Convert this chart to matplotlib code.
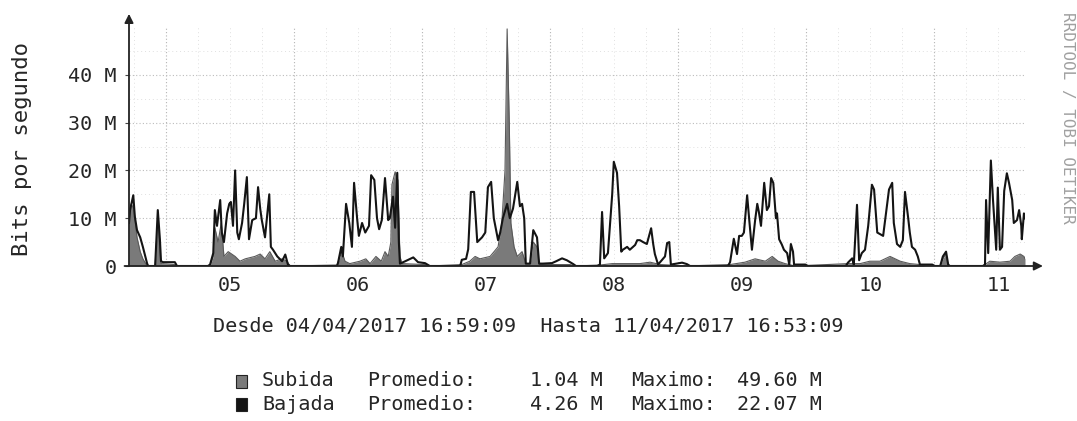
import matplotlib
matplotlib.use('Agg')
import matplotlib.pyplot as plt

# horas desde 04/04/2017 16:59:09, valores en Mbit/s
bajada_h = [0.0, 0.2, 0.8, 1.1, 1.5, 2.1, 2.6, 3.4, 3.6, 4.9, 5.3, 5.4, 5.8, 6.0, 6.4, 8.6, 9.0,
            14.8, 15.2, 15.8, 16.1, 16.5, 17.1, 17.4, 17.8, 18.4, 18.8, 19.1, 19.5, 19.9, 20.3, 20.6,
            21.2, 21.6, 22.1, 22.5, 23.1, 23.8, 24.2, 24.6, 24.9, 25.5, 26.3, 26.6, 27.0, 27.8, 28.7,
            29.3, 29.8, 30.2,
            39.0, 39.2, 39.8, 40.1, 40.7, 41.3, 41.8, 42.2, 42.8, 43.1, 43.7, 44.3, 45.0, 45.4, 46.0,
            46.5, 46.9, 47.4, 48.0, 48.6, 48.9, 49.5, 49.9, 50.3, 50.6, 50.8, 51.8, 53.3, 54.2, 55.5, 56.4,
            62.1, 62.4, 63.2, 63.6, 64.1, 64.7, 65.3, 66.2, 66.8, 67.3, 67.9, 68.4, 69.2, 69.6, 70.1,
            70.9, 71.4, 72.0, 72.8, 73.3, 73.7, 74.1, 74.4, 75.2, 75.8, 76.5, 76.9, 77.6, 79.3, 80.1,
            81.2, 82.1, 83.3, 83.8,
            87.8, 88.3, 88.7, 89.1, 89.8, 90.6, 90.9, 91.5, 91.9, 92.3, 92.6, 93.4, 93.9, 94.9, 95.3,
            95.8, 96.4, 97.1, 97.9, 98.3, 98.6, 99.2, 100.5, 100.9, 101.3, 101.6, 103.7, 104.6, 105.2,
            112.3, 112.7, 113.4, 114.0, 114.4, 114.9, 115.3, 115.9, 116.3, 116.8, 117.4, 117.8, 118.1,
            118.5, 119.1, 119.6, 120.0, 120.4, 120.8, 121.3, 121.5, 121.9, 122.4, 122.8, 123.4, 123.8,
            124.1, 124.5, 124.7, 126.8, 127.3,
            134.4, 134.8, 135.6, 135.9, 136.5, 136.9, 137.4, 138.0, 138.6, 139.3, 139.7, 140.3, 141.4,
            142.1, 142.5, 143.1, 143.4, 144.0, 144.6, 145.1, 145.5, 146.1, 146.4, 146.8, 147.4, 147.9,
            148.3, 150.6, 151.1, 152.1, 152.6, 153.2, 153.6, 153.9,
            160.1, 160.5, 160.7, 161.1, 161.6, 162.0, 162.6, 162.9, 163.3, 163.7, 164.1, 164.6, 165.0,
            165.6, 165.9, 166.5, 166.9, 167.3, 167.4, 167.8, 168.0]
bajada_v = [9, 11.7, 14.8, 10.3, 7.5, 6, 4, 0.5, 0, 0, 9, 11.7, 5.5, 1, 0.8, 0.8, 0,
            0, 0.3, 2.7, 11.7, 8.4, 13.8, 7, 5, 11, 13, 13.4, 8.4, 20, 7, 5.6,
            9, 13, 18.6, 5.6, 9.6, 10, 16.5, 12, 9.6, 6, 15, 4, 3.4, 2, 1,
            2.4, 0.3, 0,
            0, 0.7, 4, 2, 13, 9, 4, 17.4, 9.6, 6.3, 9, 7, 8.4, 19, 18,
            10, 7.7, 9.6, 18.4, 9.6, 10, 14.5, 8, 19.5, 5, 0.5, 1, 1.8, 0.8, 0.6, 0,
            0, 1.3, 1.5, 3.5, 15.5, 15.5, 5, 6, 7, 16.5, 17.6, 10, 5.4, 7, 10,
            13, 10, 12, 17.6, 12.5, 13, 10, 0.5, 0.5, 7.5, 6, 0.5, 0.5, 0.6, 1,
            1.6, 1.2, 0.4, 0,
            0, 0.3, 11.3, 1.6, 2.7, 15, 21.8, 19.5, 12.5, 3, 3.4, 4, 3.4, 4.4, 5.4,
            5.4, 5, 4.6, 7.9, 4.5, 2.5, 0.3, 2, 4.8, 5, 0.3, 0.7, 0.4, 0,
            0, 0.8, 5.7, 2.5, 6.3, 6.3, 7, 14.8, 9.6, 3.4, 9.6, 13, 11.3,
            8.4, 17.4, 11.7, 12.5, 18.4, 17.4, 10, 11, 5.6, 4.5, 3.4, 2.7, 0.3,
            4.6, 3, 0.3, 0.3, 0,
            0, 0.7, 1.6, 0.3, 12.8, 1.2, 2.7, 3.4, 8.4, 17, 16, 7, 6.3,
            12.5, 16, 17.4, 9, 4.6, 4, 5.4, 15.5, 10, 7, 4, 3.4, 2,
            0.3, 0.3, 0, 0, 2, 3, 0.3, 0,
            0, 0.3, 13.8, 2.7, 22.07, 13.8, 3.4, 16.4, 3.4, 4, 15.7, 19.4, 17.4,
            13.8, 9, 9.6, 11.7, 8.4, 5.6, 11, 10]

subida_h = [0.0, 0.4, 0.9, 1.5, 2.1, 2.6, 3.4, 4.9, 5.3, 5.4, 5.8, 6.0, 8.6, 9.0,
            15.2, 15.8, 16.1, 16.7, 17.3, 17.8, 18.6, 19.9, 20.8, 21.8, 23.6, 24.6, 25.5, 26.4,
            27.4, 28.7, 29.6, 30.2,
            39.0, 39.9, 40.5, 41.4, 43.3, 44.4, 45.2, 46.3, 47.3, 48.0, 48.6, 49.1, 49.3, 49.9,
            50.4, 50.8, 51.2, 55.5, 56.4,
            62.4, 63.9, 64.9, 65.8, 67.7, 69.2, 69.9, 70.5, 70.9, 71.3, 71.6, 72.2, 72.8, 73.7,
            74.4, 75.2, 75.8, 76.5, 76.9, 82.7, 83.6,
            88.3, 90.6, 95.8, 97.7, 99.6, 101.4, 104.3,
            112.7, 115.5, 117.4, 119.3, 120.6, 121.7, 123.0, 124.9,
            134.8, 137.1, 138.9, 140.8, 142.7, 144.6, 146.4, 148.3, 149.3, 152.1, 152.6, 153.2, 153.6,
            160.1, 160.5, 161.4, 163.3, 165.2, 166.1, 167.1, 167.8, 168.0]
subida_v = [11, 13, 12, 6, 3, 1.5, 0, 0, 8, 10, 3, 0.5, 0.3, 0,
            0, 2, 8, 5, 9, 2, 3, 2, 1, 1.5, 2, 2.5, 1.5, 3,
            1, 1.5, 1, 0,
            0.2, 3, 1, 0.5, 1, 1.5, 0.5, 2, 1, 3, 2, 5, 17, 19.7,
            18, 2, 0.5, 0.3, 0,
            0.3, 1, 2, 1.5, 2, 4, 9, 20, 49.6, 30, 9, 4, 2, 3,
            0.5, 0.5, 5, 4, 0.3, 0.3, 0,
            0.2, 0.5, 0.5, 0.8, 0.3, 0.2, 0,
            0.3, 0.8, 1.5, 1, 2, 1, 0.5, 0,
            0.5, 0.5, 1, 1, 2, 1, 0.5, 0.3, 0, 0, 1.5, 2.5, 0,
            0, 0.3, 1, 0.8, 1, 2, 2.5, 2, 1.5]

dias = ['05', '06', '07', '08', '09', '10', '11']
dias_mediodia = [19.0, 43.0, 67.0, 91.0, 115.0, 139.0, 163.0]
y_ticks = [0, 10, 20, 30, 40]
y_labels = ['0', '10 M', '20 M', '30 M', '40 M']

leyenda = [('Subida', '1.04 M', '49.60 M', '#7a7a7a'),
           ('Bajada', '4.26 M', '22.07 M', '#141414')]

mono = 'DejaVu Sans Mono'
txt = '#262626'
fs = 14.5

W, H = 1077, 421
fig = plt.figure(figsize=(W / 100, H / 100), dpi=100)
ax = fig.add_axes([129 / W, 1 - 266 / H, 896 / W, 239 / H])
ax.set_xlim(0, 168)
ax.set_ylim(0, 50)

# rejilla punteada: fina cada 6 h / 5 M, marcada a medianoche / 10 M
for h in range(1, 168, 6):
    if (h - 7) % 24 == 0:
        ax.axvline(h, color='#b4b4b4', lw=0.8, ls=(0, (1, 2)), zorder=1)
    else:
        ax.axvline(h, color='#e0e0e0', lw=0.7, ls=(0, (1, 3)), zorder=1)
for v in range(5, 50, 5):
    if v % 10 == 0:
        ax.axhline(v, color='#bcbcbc', lw=0.8, ls=(0, (1, 2)), zorder=1)
    else:
        ax.axhline(v, color='#e0e0e0', lw=0.7, ls=(0, (1, 3)), zorder=1)

ax.fill_between(subida_h, subida_v, 0, color='#7a7a7a', lw=0, zorder=2)
ax.plot(subida_h, subida_v, color='#5a5a5a', lw=0.8, zorder=2)
ax.plot(bajada_h, bajada_v, color='#141414', lw=1.5, zorder=3)

for s in ax.spines.values():
    s.set_visible(False)
ax.annotate('', xy=(0, 1.055), xytext=(0, 0), xycoords='axes fraction',
            arrowprops=dict(arrowstyle='-|>', color='#222222', lw=1.3, mutation_scale=13,
                            shrinkA=0, shrinkB=0), annotation_clip=False)
ax.annotate('', xy=(1.02, 0), xytext=(-0.005, 0), xycoords='axes fraction',
            arrowprops=dict(arrowstyle='-|>', color='#222222', lw=1.3, mutation_scale=13,
                            shrinkA=0, shrinkB=0), annotation_clip=False)

ax.set_yticks(y_ticks)
ax.set_yticklabels(y_labels, family=mono, fontsize=fs, color=txt)
ax.set_xticks(dias_mediodia)
ax.set_xticklabels(dias, family=mono, fontsize=fs, color=txt)
ax.tick_params(axis='y', length=3, width=0.8, color='#444444', pad=6)
ax.tick_params(axis='x', length=0, pad=7)

fig.text(22 / W, 1 - 149 / H, 'Bits por segundo', rotation=90, ha='center', va='center',
         family=mono, fontsize=16, color=txt)
fig.text(1068 / W, 1 - 118 / H, 'RRDTOOL / TOBI OETIKER', rotation=270, ha='center', va='center',
         family=mono, fontsize=11.5, color='#a0a0a0')

fig.text(213 / W, 1 - 326 / H, 'Desde 04/04/2017 16:59:09  Hasta 11/04/2017 16:53:09',
         ha='left', va='center', family=mono, fontsize=fs, color=txt)

for i, (nombre, prom, maxi, col) in enumerate(leyenda):
    yy = 1 - (381 + 23 * i) / H
    fig.patches.append(plt.Rectangle((236 / W, yy - 6.5 / H), 11 / W, 13 / H, transform=fig.transFigure,
                                     facecolor=col, edgecolor='#222222', lw=0.8))
    fig.text(262 / W, yy, nombre, ha='left', va='center', family=mono, fontsize=fs, color=txt)
    fig.text(367 / W, yy, 'Promedio:', ha='left', va='center', family=mono, fontsize=fs, color=txt)
    fig.text(603 / W, yy, prom, ha='right', va='center', family=mono, fontsize=fs, color=txt)
    fig.text(631 / W, yy, 'Maximo:', ha='left', va='center', family=mono, fontsize=fs, color=txt)
    fig.text(822 / W, yy, maxi, ha='right', va='center', family=mono, fontsize=fs, color=txt)

fig.savefig('out.png', dpi=100)
